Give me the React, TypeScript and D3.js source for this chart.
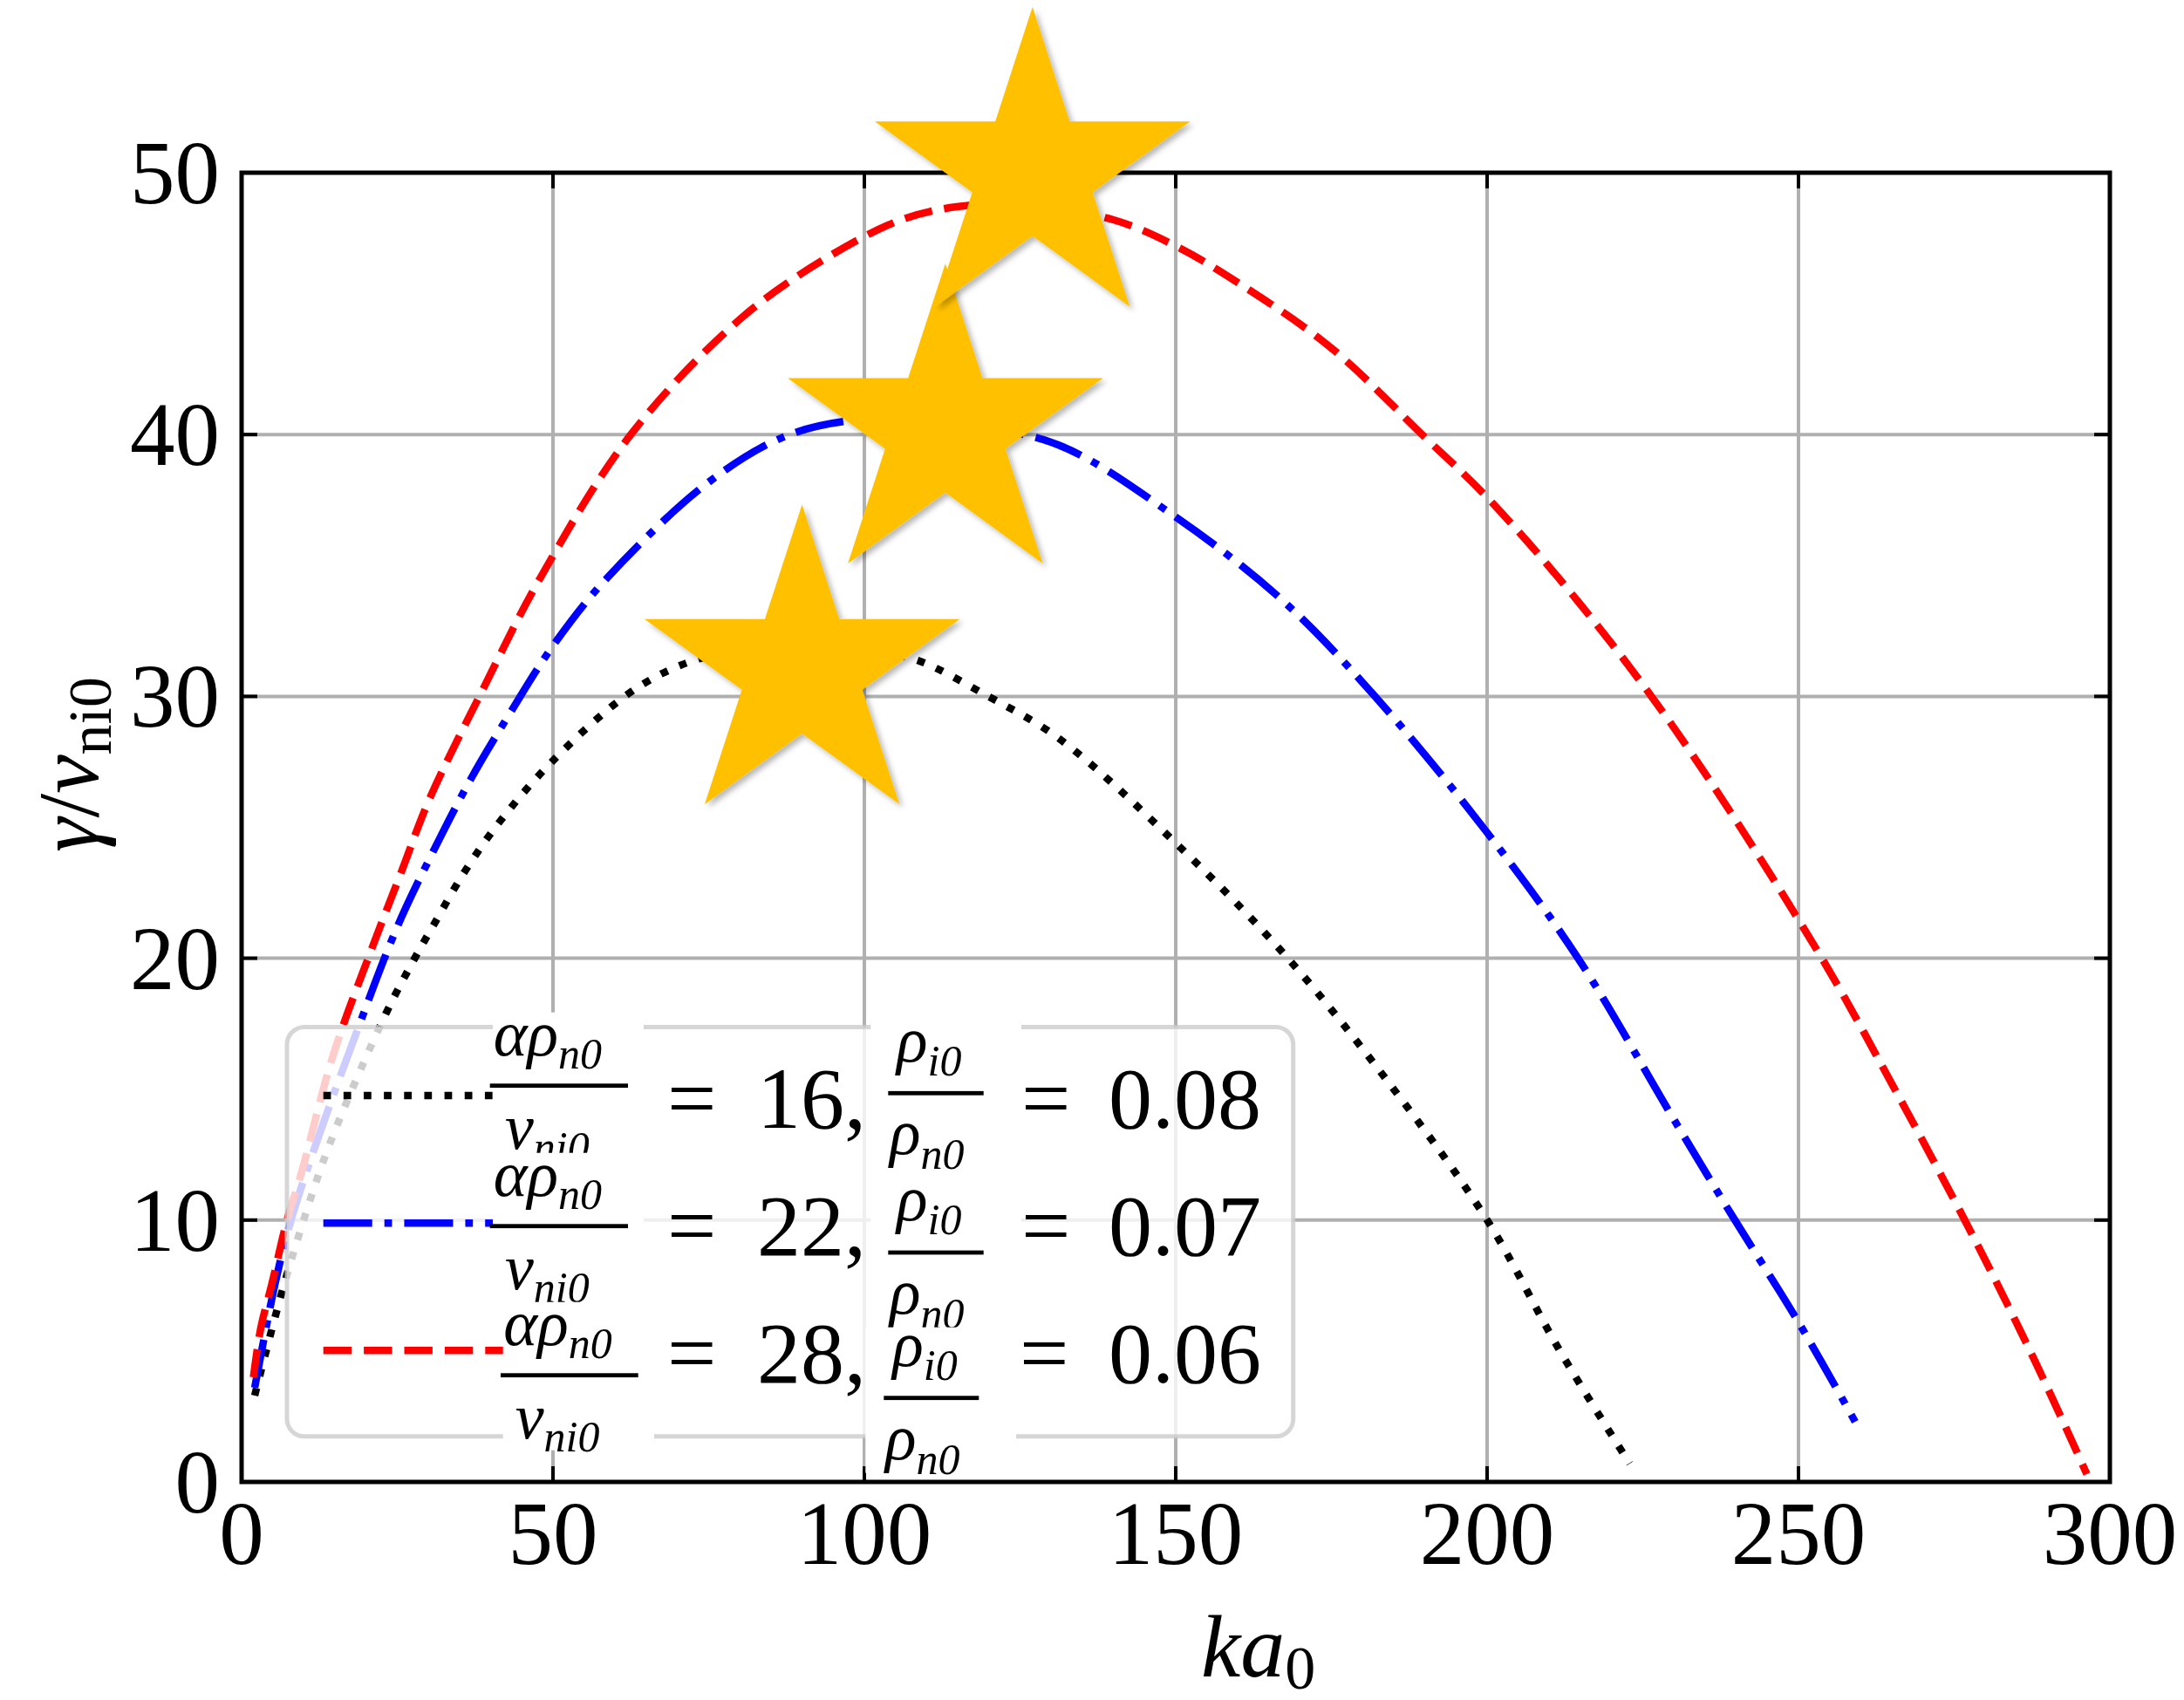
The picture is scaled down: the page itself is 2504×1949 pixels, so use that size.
import React from "react";
import * as d3 from "d3";

// ---- data ----
const blackX = [2.1, 6.3, 10.1, 14.3, 23.2, 27.8, 30.9, 35.8, 41.4, 49.8, 62.1, 70.6, 80, 90, 100, 108.3, 119.9, 131.2, 150, 168, 185, 200, 211.7, 222.9];
const blackY = [3.3, 7.1, 10.1, 13.0, 17.9, 20.0, 21.3, 23.3, 25.2, 27.5, 30.1, 31.2, 31.8, 32.0, 31.8, 31.4, 30.0, 28.4, 24.4, 20.0, 15.0, 10.0, 5.0, 0.7];

const blueX = [2.1, 5.4, 7.7, 11.5, 18.5, 25.0, 30.6, 36.7, 43.2, 50.2, 58.6, 75.1, 88, 101, 115, 131.2, 149.7, 167, 182, 200, 214.6, 229.6, 239, 250, 259.1];
const blueY = [3.6, 7.6, 9.8, 12.6, 17.2, 21.2, 24.0, 26.8, 29.4, 32.0, 34.5, 38.2, 40.0, 40.6, 40.4, 39.6, 36.9, 33.7, 30.0, 24.8, 20.0, 14.0, 10.3, 6.1, 2.3];

const redX = [1.9, 3.1, 4.9, 7.3, 9.6, 14.7, 20.8, 25.5, 30.2, 38.6, 47.9, 62.5, 80, 94.3, 105.9, 114.8, 125, 140, 150, 160, 175, 190, 200, 214, 230, 253, 265, 278, 288, 296.3];
const redY = [4.0, 5.9, 7.6, 10.0, 11.8, 16.3, 20.3, 23.2, 26.1, 30.2, 34.5, 40.0, 44.4, 46.8, 48.2, 48.7, 48.8, 48.2, 47.2, 45.8, 43.3, 39.9, 37.6, 33.8, 28.8, 20.3, 15.2, 9.4, 4.6, 0.3];

const starX = [90, 113, 127];
const starY = [31, 40.2, 50];

const xTicks = [0, 50, 100, 150, 200, 250, 300];
const yTicks = [0, 10, 20, 30, 40, 50];

const legendAlpha = ["16", "22", "28"];
const legendRatio = ["0.08", "0.07", "0.06"];

// ---- layout ----
const W = 2504, H = 1949;
const L = 277, R = 2419, T = 198, B = 1699;
const FONT = "'Liberation Serif', 'Times New Roman', serif";
const LW = 8.5;
const DOT = "8.75,14.4";
const DASHDOT = "56,14,8.75,14";
const DASH = "32.4,14";

const series = [
  { xs: blackX, ys: blackY, color: "#000000", dash: DOT },
  { xs: blueX, ys: blueY, color: "#0000ff", dash: DASHDOT },
  { xs: redX, ys: redY, color: "#ff0000", dash: DASH },
];

// legend row geometry
const rows = [
  { hy: 1256, hx2: 600, aBar: 1244.7, aX1: 561.7, aX2: 720, aNumX: 565.7, aDenX: 579, boxA: [565, 738], bBar: 1253.3, bX1: 1018.3, bX2: 1127.7, bNumX: 1028, bDenX: 1020, boxB: [998.3, 1171], base: 1293, eq2X: 1171 },
  { hy: 1402.3, hx2: 600, aBar: 1405.7, aX1: 561.7, aX2: 720, aNumX: 565.7, aDenX: 579, boxA: [565, 738], bBar: 1436, bX1: 1018.3, bX2: 1127.7, bNumX: 1028, bDenX: 1020, boxB: [998.3, 1171], base: 1438.5, eq2X: 1171 },
  { hy: 1548.3, hx2: 600, aBar: 1576.7, aX1: 574, aX2: 731.7, aNumX: 577.3, aDenX: 590.7, boxA: [576.7, 750], bBar: 1602.7, bX1: 1013.3, bX2: 1122.3, bNumX: 1023.3, bDenX: 1015, boxB: [992.3, 1165], base: 1585, eq2X: 1169 },
];

export default function App() {
  const x = d3.scaleLinear().domain([0, 300]).range([L, R]);
  const y = d3.scaleLinear().domain([0, 50]).range([B, T]);
  const line = d3
    .line<[number, number]>()
    .x((d) => x(d[0]))
    .y((d) => y(d[1]))
    .curve(d3.curveCatmullRom.alpha(0.5));

  const starRadius = 190;
  const starPath = d3.symbol().type(d3.symbolStar).size((starRadius * starRadius) / 0.8908130915292852)()!;

  const mathSize = 74;
  const subSize = 50;

  return (
    <svg width={W} height={H} style={{ position: "absolute", left: 0, top: 0, display: "block", background: "#fff" }} fontFamily={FONT}>
      <defs>
        <filter id="shadow" x="-20%" y="-20%" width="140%" height="140%">
          <feDropShadow dx="4" dy="4" stdDeviation="3" floodColor="#000" floodOpacity="0.28" />
        </filter>
      </defs>
      <rect x={0} y={0} width={W} height={H} fill="#fff" />

      {/* grid */}
      <g stroke="#b0b0b0" strokeWidth={4}>
        {xTicks.map((t) => (
          <line key={"gx" + t} x1={x(t)} x2={x(t)} y1={T} y2={B} />
        ))}
        {yTicks.map((t) => (
          <line key={"gy" + t} x1={L} x2={R} y1={y(t)} y2={y(t)} />
        ))}
      </g>

      {/* curves */}
      {series.map((s, i) => (
        <path
          key={"s" + i}
          d={line(s.xs.map((v, j) => [v, s.ys[j]] as [number, number]))!}
          fill="none"
          stroke={s.color}
          strokeWidth={LW}
          strokeDasharray={s.dash}
          strokeLinecap="butt"
        />
      ))}

      {/* ticks (inward, all sides) */}
      <g stroke="#000" strokeWidth={4}>
        {xTicks.map((t) => (
          <g key={"tx" + t}>
            <line x1={x(t)} x2={x(t)} y1={B} y2={B - 18} />
            <line x1={x(t)} x2={x(t)} y1={T} y2={T + 18} />
          </g>
        ))}
        {yTicks.map((t) => (
          <g key={"ty" + t}>
            <line x1={L} x2={L + 18} y1={y(t)} y2={y(t)} />
            <line x1={R} x2={R - 18} y1={y(t)} y2={y(t)} />
          </g>
        ))}
      </g>

      {/* spines */}
      <rect x={L} y={T} width={R - L} height={B - T} fill="none" stroke="#000" strokeWidth={5} />

      {/* tick labels */}
      <g fontSize={103} fill="#000">
        {xTicks.map((t) => (
          <text key={"lx" + t} x={x(t)} y={1793} textAnchor="middle">
            {t}
          </text>
        ))}
        {yTicks.map((t) => (
          <text key={"ly" + t} x={252} y={y(t) + 35} textAnchor="end">
            {t}
          </text>
        ))}
      </g>

      {/* axis labels */}
      <text x={1377} y={1922} fontSize={102} fill="#000">
        <tspan fontStyle="italic">ka</tspan>
        <tspan fontSize={70} dy={14}>0</tspan>
      </text>
      <text transform="translate(112,977) rotate(-90)" fontSize={100} fill="#000">
        <tspan fontStyle="italic">γ</tspan>
        <tspan>/</tspan>
        <tspan fontStyle="italic">ν</tspan>
        <tspan fontSize={70} dy={15}>ni0</tspan>
      </text>

      {/* legend */}
      <g>
        <rect x={329} y={1177.5} width={1482.7 - 329} height={1646.8 - 1177.5} rx={20} ry={20} fill="#fff" fillOpacity={0.8} stroke="#cccccc" strokeOpacity={0.8} strokeWidth={5} />
        {rows.map((r, i) => (
          <line key={"h" + i} x1={370.7} x2={r.hx2} y1={r.hy} y2={r.hy} stroke={series[i].color} strokeWidth={LW} strokeDasharray={series[i].dash} />
        ))}
        {rows.map((r, i) => (
          <g key={"row" + i} fill="#000">
            {/* first fraction: alpha rho_n0 / nu_ni0 */}
            <rect x={r.boxA[0]} y={r.aBar - 84} width={r.boxA[1] - r.boxA[0]} height={170} fill="#fff" />
            <text x={r.aNumX} y={r.aBar - 35} fontSize={mathSize} fontStyle="italic">
              αρ<tspan fontSize={subSize} dy={15}>n0</tspan>
            </text>
            <rect x={r.aX1} y={r.aBar - 2.4} width={r.aX2 - r.aX1} height={4.8} fill="#000" />
            <text x={r.aDenX} y={r.aBar + 72} fontSize={mathSize} fontStyle="italic">
              ν<tspan fontSize={subSize} dy={15}>ni0</tspan>
            </text>
            <text x={765} y={r.base} fontSize={100}>=</text>
            <text x={868} y={r.base} fontSize={100}>{legendAlpha[i] + ","}</text>
            {/* second fraction: rho_i0 / rho_n0 */}
            <rect x={r.boxB[0]} y={r.bBar - 81} width={r.boxB[1] - r.boxB[0]} height={167} fill="#fff" />
            <text x={r.bNumX} y={r.bBar - 36.6} fontSize={mathSize} fontStyle="italic">
              ρ<tspan fontSize={subSize} dy={16}>i0</tspan>
            </text>
            <rect x={r.bX1} y={r.bBar - 2.4} width={r.bX2 - r.bX1} height={4.8} fill="#000" />
            <text x={r.bDenX} y={r.bBar + 70} fontSize={mathSize} fontStyle="italic">
              ρ<tspan fontSize={subSize} dy={17}>n0</tspan>
            </text>
            <text x={r.eq2X} y={r.base} fontSize={100}>=</text>
            <text x={1271} y={r.base} fontSize={100}>{legendRatio[i]}</text>
          </g>
        ))}
      </g>

      {/* stars */}
      {starX.map((sx, i) => (
        <path key={"star" + i} d={starPath} transform={`translate(${x(sx)},${y(starY[i])})`} fill="#FFC000" filter="url(#shadow)" />
      ))}
    </svg>
  );
}
